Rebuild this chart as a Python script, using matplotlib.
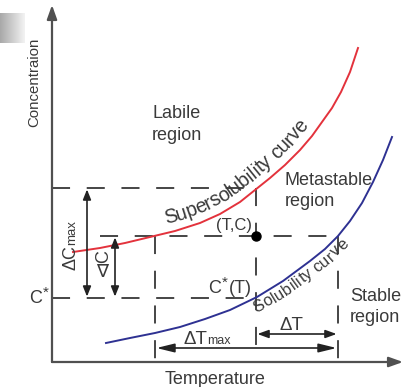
import numpy as np
import matplotlib
matplotlib.use("Agg")
import matplotlib.pyplot as plt
from matplotlib.font_manager import FontProperties

plt.rcParams['font.family'] = ['Liberation Sans', 'DejaVu Sans']
plt.rcParams['lines.scale_dashes'] = False

# curves (x = temperature, y = concentration, arbitrary units)
super_T = [21, 48, 73, 98, 123, 148, 168, 188, 203, 218, 233, 248, 260, 270, 280, 289, 298, 306]
super_C = [110, 114, 119, 125, 131, 139, 148, 160, 172, 184, 197, 212, 226, 240, 254, 270, 290, 314]
sol_T = [54, 78, 103, 128, 153, 178, 205, 231, 258, 273, 286, 298, 310, 321, 331, 340]
sol_C = [19, 24, 29, 35, 43, 52, 65, 81, 101, 113, 126, 141, 159, 180, 202, 225]

# key levels
c_star = 64      # C*
c_op = 126       # C at the operating point
c_max = 174      # supersolubility at T
t_low = 103      # start of dT max
t_op = 204       # operating temperature T
t_eq = 286       # solubility temperature for C
y_dTmax = 14
y_dT = 28
x_dCmax = 35
x_dC = 63

txt = '#3a3a3a'
dash_col = '#454545'

fig = plt.figure(figsize=(4.09, 3.87), dpi=100)
ax = fig.add_axes([0, 0, 1, 1])
ax.axis('off')

# grey gradient box top-left
grad = np.linspace(0.66, 0.95, 50).reshape(1, -1)
ax.imshow(grad, cmap='gray', vmin=0, vmax=1, extent=(-52, -27, 319, 349), aspect='auto', zorder=0)
ax.set_xlim(-52, 357)
ax.set_ylim(-25, 362)

# axes with arrows
for tip in [(0, 357), (351, 0)]:
    ax.annotate('', xy=tip, xytext=(0, 0),
                arrowprops=dict(arrowstyle='-|>,head_length=0.7,head_width=0.25', color='#505050', lw=1.6,
                                shrinkA=0, shrinkB=0, mutation_scale=12))

# dashed guide lines
dkw = dict(color=dash_col, lw=1.4, dashes=(13, 12))
ax.plot([0, t_op], [c_max, c_max], **dkw)
ax.plot([48, t_eq], [c_op, c_op], **dkw)
ax.plot([0, t_op], [c_star, c_star], **dkw)
ax.plot([t_low, t_low], [c_op, 0], **dkw)
ax.plot([t_op, t_op], [c_max, 0], **dkw)
ax.plot([t_eq, t_eq], [c_op, 0], **dkw)

# curves
ax.plot(super_T, super_C, color='#e3323c', lw=1.4)
ax.plot(sol_T, sol_C, color='#2e3192', lw=1.4)

# operating point
ax.plot([t_op], [c_op], 'o', color='black', ms=6.5)


# double arrows
def darrow(p0, p1, hl, hw):
    ax.annotate('', xy=p1, xytext=p0,
                arrowprops=dict(arrowstyle=f'<|-|>,head_length={hl},head_width={hw}', color='#222222',
                                lw=1.2, shrinkA=1, shrinkB=1, mutation_scale=12))


darrow((x_dCmax, c_star), (x_dCmax, c_max), 0.5, 0.2)
darrow((x_dC, c_star), (x_dC, c_op), 0.5, 0.2)
darrow((t_low, y_dTmax), (t_eq, y_dTmax), 0.9, 0.22)
darrow((t_op, y_dT), (t_eq, y_dT), 0.55, 0.2)

renderer = fig.canvas.get_renderer()


def text_on_curve(xs, ys, s, start_x, offset, fs, color):
    xs = np.asarray(xs, float)
    ys = np.asarray(ys, float)
    L = np.concatenate([[0], np.cumsum(np.hypot(np.diff(xs), np.diff(ys)))])
    s0 = np.interp(start_x, xs, L)
    prop = FontProperties(family='Liberation Sans', size=fs)
    width = lambda t: renderer.get_text_width_height_descent(t, prop, ismath=False)[0]
    for i, ch in enumerate(s):
        if ch == ' ':
            continue
        mid = s0 + width(s[:i + 1]) - width(ch) / 2
        x = np.interp(mid, L, xs)
        y = np.interp(mid, L, ys)
        x1, y1 = np.interp(mid - 12, L, xs), np.interp(mid - 12, L, ys)
        x2, y2 = np.interp(mid + 12, L, xs), np.interp(mid + 12, L, ys)
        ang = np.arctan2(y2 - y1, x2 - x1)
        ax.text(x - offset * np.sin(ang), y + offset * np.cos(ang), ch, rotation=np.degrees(ang),
                rotation_mode='anchor', ha='center', va='baseline', fontsize=fs, color=color)


text_on_curve(super_T, super_C, 'Supersolubility curve', 116, 9, 14.2, txt)
text_on_curve(sol_T, sol_C, 'Solubility curve', 198, -14, 11.8, txt)

# labels
kw = dict(color=txt, ha='left', va='baseline')
ax.text(-14, 235, 'Concentraion', rotation=90, rotation_mode='anchor', fontsize=10.8, **kw)
ax.text(113, -22, 'Temperature', fontsize=13, **kw)
ax.text(100, 244, 'Labile', fontsize=13, **kw)
ax.text(100, 222, 'region', fontsize=13, **kw)
ax.text(233, 177, 'Metastable', fontsize=13, **kw)
ax.text(233, 156, 'region', fontsize=13, **kw)
ax.text(298, 61, 'Stable', fontsize=13, **kw)
ax.text(298, 40, 'region', fontsize=13, **kw)
ax.text(164, 132, '(T,C)', fontsize=12, **kw)
ax.text(156, 69, 'C', fontsize=13, **kw)
ax.text(170, 75, '*', fontsize=11, **kw)
ax.text(177, 69, '(T)', fontsize=13, **kw)
ax.text(-23, 59, 'C', fontsize=13, **kw)
ax.text(-9, 65, '*', fontsize=11, **kw)
ax.text(131, 18, 'ΔT', fontsize=13.5, **kw)
ax.text(155, 18, 'max', fontsize=9, **kw)
ax.text(227, 32, 'ΔT', fontsize=13.5, **kw)
ax.text(23, 92, 'ΔC', rotation=90, rotation_mode='anchor', fontsize=13, **kw)
ax.text(23, 117, 'max', rotation=90, rotation_mode='anchor', fontsize=9.5, **kw)
ax.text(56, 99, 'C', rotation=90, rotation_mode='anchor', fontsize=13, **kw)
ax.text(50, 90, '∇', fontsize=13, color=txt, ha='center', va='center')

fig.savefig('out.png', dpi=100)
